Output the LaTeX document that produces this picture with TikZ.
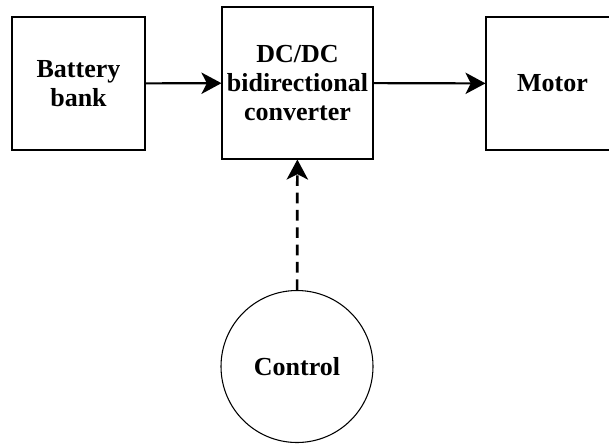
\documentclass[tikz,border=0pt]{standalone}
\usepackage{fontspec}
\setmainfont{Liberation Serif}
\usetikzlibrary{arrows.meta,positioning}

\begin{document}
\begin{tikzpicture}[x=0.75pt,y=-0.75pt,
  font=\fontsize{19.5}{22}\selectfont\bfseries,
  box/.style={draw, line width=0.8pt, minimum width=99.75pt, minimum height=99.75pt, align=center, inner sep=0pt},
  >={Stealth[length=15pt,width=16pt,inset=4pt]},
  flow/.style={->, line width=1.6pt},
  ctrl/.style={->, line width=2pt, dash pattern=on 8pt off 5pt}]

\clip (0,0) rectangle (609,444);

\node[box] (A) at (78.5,83.5) {Battery\\bank};
\node[box, minimum width=113.25pt, minimum height=114pt] (B) at (297.5,83) {DC/DC\\bidirectional\\converter};
\node[box] (C) at (552.5,83.5) {Motor};

\node[draw, circle, line width=0.8pt, minimum size=114pt, inner sep=0pt] (D) at (297,366.5) {Control};

\draw[flow] (A) -- (B);
\draw[flow] (B) -- (C);

\draw[ctrl] (D) -- (B);

\end{tikzpicture}
\end{document}
